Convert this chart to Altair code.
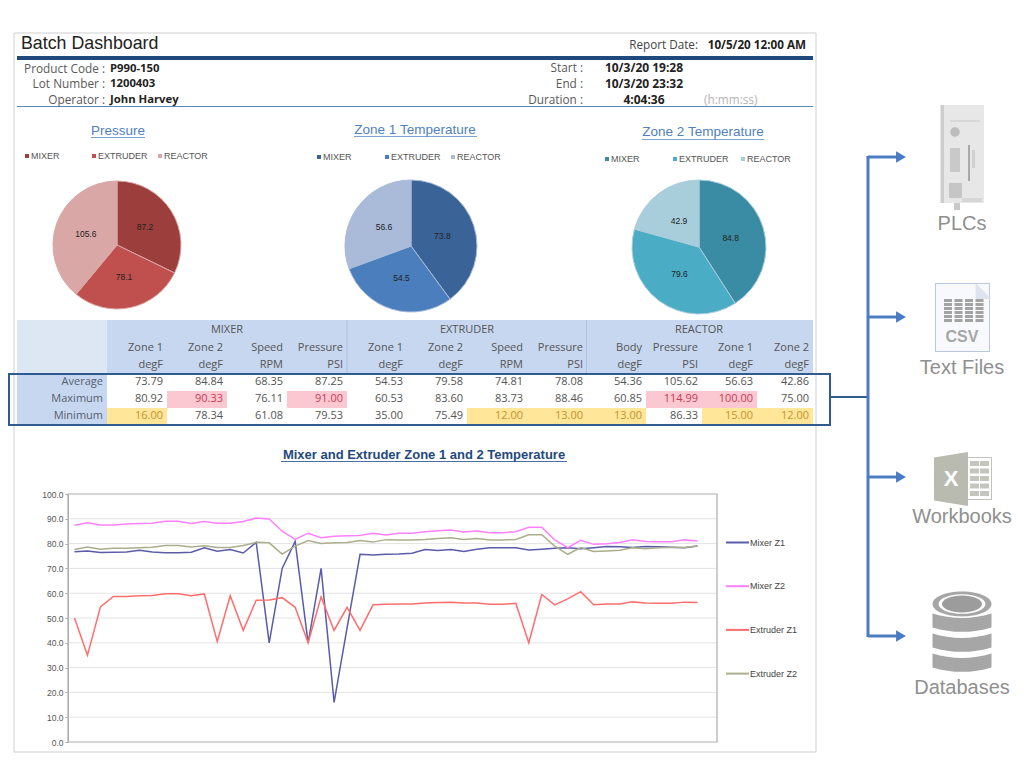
import altair as alt
import pandas as pd
from itertools import groupby

# ---------- data ----------
MIXER_Z1 = [76.7,77,76.4,76.5,76.6,77.3,76.6,76.3,76.3,76.5,78.3,76.9,77.6,76.2,80.5,40,70,80.9,40,70,16,46,75.7,75.4,75.7,75.8,76.1,77.6,77.2,77.6,76.8,77.7,78.3,78.3,78.3,77.4,77.7,78.1,78.3,77.9,78.3,78.8,78.7,78.4,78.8,78.7,78.5,78.3,79]
MIXER_Z2 = [87.4,88.4,87.5,87.5,87.9,88.1,88.2,89,89,88.1,88.9,88.2,88.2,88.9,90.3,89.9,85,81.7,84.2,82.4,83,83.2,83.3,84.2,83.5,84.2,84.2,84.8,85.2,85.5,84.7,85.1,84.4,84.4,84.8,86.6,86.6,81.5,78.4,81.3,79.7,79.9,80.4,81.5,80.8,80.7,80.7,81.5,81]
EXTRUDER_Z1 = [50,35,54.5,58.7,58.7,59,59.1,59.8,59.8,59,59.7,40.5,59,45,57.2,57.3,58.2,54.3,40,58.5,45,54.3,45,55.3,55.5,55.6,55.6,56,56.2,56.4,56,56,55.5,55.5,55.9,40,59.5,55.3,57.7,60.6,55.3,55.6,55.6,56.5,56,55.9,55.9,56.4,56.2]
EXTRUDER_Z2 = [77.6,78.6,77.7,78.1,78.1,78.3,78.5,79.2,79.2,78.6,79.1,78.4,78.4,79.2,80.5,80.3,75.8,79,81.2,80,80.3,80.4,81.2,80.6,81.6,81.5,81.5,81.7,82.1,82.4,81.7,82.1,81.5,81.5,81.7,83.6,83.6,79,75.7,78.4,76.8,77,77.3,78.3,77.9,78.3,78.4,78.4,79]
SERIES_NAMES = ["Mixer Z1", "Mixer Z2", "Extruder Z1", "Extruder Z2"]
SERIES_COLORS = ["#5A5CA8", "#FF80FF", "#FF6E6E", "#ABAE8C"]
Y_TICKS = [0, 10, 20, 30, 40, 50, 60, 70, 80, 90, 100]

PIE_GROUPS = ["MIXER", "EXTRUDER", "REACTOR"]
PIE_TITLES = ["Pressure", "Zone 1 Temperature", "Zone 2 Temperature"]
PIE_VALUES = [[87.2, 78.1, 105.6], [73.8, 54.5, 56.6], [84.8, 79.6, 42.9]]
PIE_COLORS = [["#9C3E3C", "#C0504D", "#D9A8A6"],
              ["#3A6398", "#4A7EBC", "#A9BBD9"],
              ["#3A8CA4", "#4BACC6", "#A9CEDB"]]

HEAD_TOP = ["Zone 1","Zone 2","Speed","Pressure","Zone 1","Zone 2","Speed","Pressure","Body","Pressure","Zone 1","Zone 2"]
HEAD_UNIT = ["degF","degF","RPM","PSI","degF","degF","RPM","PSI","degF","PSI","degF","degF"]
ROW_NAMES = ["Average", "Maximum", "Minimum"]
ROW_AVG = ["73.79","84.84","68.35","87.25","54.53","79.58","74.81","78.08","54.36","105.62","56.63","42.86"]
ROW_MAX = ["80.92","90.33","76.11","91.00","60.53","83.60","83.73","88.46","60.85","114.99","100.00","75.00"]
ROW_MIN = ["16.00","78.34","61.08","79.53","35.00","75.49","12.00","13.00","13.00","86.33","15.00","12.00"]
MAX_ALARM = [1, 3, 9, 10]
MIN_ALARM = [0, 6, 7, 8, 10, 11]

# ---------- layout (image pixels) ----------
M = 8
PLOT_X = [68, 717]
PLOT_Y = [742, 494]
COL_EDGES = [107,167,227,287,347,407,467,525,583,646,702,757,813]
COL_RIGHT = [163,223,283,343,403,463,523,583,642,698,753,809]
ROW_Y = [382, 399, 416]
ROW_EDGES = [374, 391, 408, 424]
PIE_CENTERS = [(117,245,64), (411,246,66), (699,247,67)]
PIE_LEG_Y = [156, 157, 159]
PIE_LEG_X = [[27,94,160], [319,387,453], [607,675,743]]
PIE_TITLE_POS = [(118,131,91,145,137), (415,130,354,477,136), (703,132,642,764,139)]
NAVY = "#1F497D"
LINK = "#4A7CC2"
BOX = "#2F5B8E"
ICON = "#8F8F8F"

texts, rects, frames = [], [], []

def T(x, y, s, size=11, color="#555555", weight="normal", align="left", font="Open Sans"):
    texts.append(dict(x=x-M, y=y-M, s=s, size=size, color=color, weight=weight, align=align, font=font))

def R(x1, y1, x2, y2, fill):
    rects.append(dict(x=x1-M, x2=x2-M, y=y1-M, y2=y2-M, fill=fill))

def F(x1, y1, x2, y2, stroke, width):
    frames.append(dict(x=x1-M, x2=x2-M, y=y1-M, y2=y2-M, stroke=stroke, w=width))

# dashboard frame + header
F(14, 33, 816, 752, "#CFCFCF", 1)
T(21, 44, "Batch Dashboard", 17.8, "#222222", font="Liberation Sans")
T(698, 45, "Report Date:", 11.7, "#444444", align="right", font="Open Sans")
T(806, 45, "10/5/20 12:00 AM", 11.7, "#222222", "bold", "right")
R(17, 56, 813, 60, NAVY)
R(17, 106, 813, 107, "#5E88B8")
for i, (a, b) in enumerate([("Product Code :", "P990-150"), ("Lot Number  :", "1200403"), ("Operator  :", "John Harvey")]):
    y = [69, 84, 100][i]
    T(105, y, a, 11.8, "#5A5A5A", align="right")
    T(110, y, b, 11.3, "#222222", "bold")
for i, (a, b) in enumerate([("Start :", "10/3/20 19:28"), ("End :", "10/3/20 23:32"), ("Duration :", "4:04:36")]):
    y = [68, 84, 100][i]
    T(583, y, a, 11.8, "#5A5A5A", align="right")
    T(644, y, b, 12, "#222222", "bold", "center")
T(704, 100, "(h:mm:ss)", 11.8, "#B5B5B5")

# pie titles + legends
for k, (cx, cy, x1, x2, uy) in enumerate(PIE_TITLE_POS):
    T(cx, cy, PIE_TITLES[k], 13.5, "#4F81BD", align="center", font="Liberation Sans")
    R(x1, uy, x2, uy + 1, "#7FA3CE")
    for j, g in enumerate(PIE_GROUPS):
        lx = PIE_LEG_X[k][j]
        R(lx - 2, PIE_LEG_Y[k] - 2, lx + 2, PIE_LEG_Y[k] + 2, PIE_COLORS[k][j])
        T(lx + 4, PIE_LEG_Y[k], g, 9, "#555555", font="Liberation Sans")

# table
R(17, 320, 107, 374, "#DDE6F3")
R(107, 320, 813, 374, "#C6D7EF")
R(17, 374, 107, 424, "#C6D7EF")
R(346.5, 320, 347.5, 374, "#AFC3DE")
R(586, 320, 587, 374, "#AFC3DE")
for x, g in zip([227, 467, 699], PIE_GROUPS):
    T(x, 330, g, 11, "#555555", align="center")
for i in range(12):
    T(COL_RIGHT[i], 348, HEAD_TOP[i], 11, "#555555", align="right")
    T(COL_RIGHT[i], 365, HEAD_UNIT[i], 11, "#555555", align="right")
for r, (name, row) in enumerate(zip(ROW_NAMES, [ROW_AVG, ROW_MAX, ROW_MIN])):
    T(103, ROW_Y[r], name, 11, "#56606E", "normal", "right")
    for i, v in enumerate(row):
        col = "#555555"
        if r == 1 and i in MAX_ALARM:
            R(COL_EDGES[i], ROW_EDGES[r], COL_EDGES[i+1], ROW_EDGES[r+1], "#FBC8D2")
            col = "#C83A55"
        if r == 2 and i in MIN_ALARM:
            R(COL_EDGES[i], ROW_EDGES[r], COL_EDGES[i+1], ROW_EDGES[r+1], "#FFE699")
            col = "#C4922F"
        T(COL_RIGHT[i], ROW_Y[r], v, 11, col, align="right")
F(9, 374, 830, 425, BOX, 2)

# line chart title + frame
T(424, 455, "Mixer and Extruder Zone 1 and 2 Temperature", 13, NAVY, "bold", "center", "Liberation Sans")
R(281, 461, 567, 462, "#4A6FA5")
F(PLOT_X[0], PLOT_Y[1], PLOT_X[1], PLOT_Y[0], "#ADADAD", 1.2)

# connectors
R(830, 396, 868, 398, BOX)
R(866.5, 156, 869.5, 637, LINK)
ARROW_Y = [157, 317, 477, 636]
for y in ARROW_Y:
    R(868, y - 1.5, 897, y + 1.5, LINK)

# right-hand labels
for y, s in zip([224, 368, 517, 688], ["PLCs", "Text Files", "Workbooks", "Databases"]):
    T(962, y, s, 20, ICON, align="center", font="Liberation Sans")

# PLC icon
R(940, 105, 984, 203, "#E7E7E7")
R(941, 105, 944, 203, "#CDCDCD")
R(950, 148, 960, 172, "#C9C9C9")
R(968, 145, 970, 181, "#A9A9A9")
R(972, 150, 975, 168, "#D0D0D0")
R(949, 183, 962, 198, "#C6C6C6")
R(954, 203, 960, 210, "#C9C9C9")
R(950, 120, 980, 122, "#D8D8D8")
R(962, 198, 982, 202, "#D6D6D6")

# CSV icon
R(935, 283, 990, 352, "#B9C8DE")
R(936, 284, 989, 351, "#F7F9FC")
for c in range(4):
    for n in range(6):
        R(944 + c * 10.5, 299 + n * 4, 952 + c * 10.5, 302 + n * 4, "#A3A3A3")
T(962, 337, "CSV", 16, "#A6A6A6", "bold", "center", "Liberation Sans")

# Excel sheet
R(967, 457, 992, 500, "#C2C3BA")
R(968, 458, 991, 499, "#FFFFFF")
for n in range(5):
    for c in range(2):
        R(970 + c * 10, 461 + n * 7.5, 979 + c * 10, 466 + n * 7.5, "#C4C5BD")

def T_layers():
    out = []
    key = lambda d: (d["size"], d["color"], d["weight"], d["align"], d["font"])
    for k, grp in groupby(sorted(texts, key=key), key=key):
        out.append(alt.Chart(pd.DataFrame(list(grp))).mark_text(
            fontSize=k[0], color=k[1], fontWeight=k[2], align=k[3], font=k[4], baseline="middle"
        ).encode(x=alt.X("x:Q", scale=None, axis=None), y=alt.Y("y:Q", scale=None, axis=None), text="s:N"))
    return out

def symbol(x, y, size, path, color):
    d = pd.DataFrame({"x": [x - M], "y": [y - M]})
    return alt.Chart(d).mark_point(shape=path, size=size, filled=True, opacity=1, color=color, strokeWidth=0).encode(
        x=alt.X("x:Q", scale=None, axis=None), y=alt.Y("y:Q", scale=None, axis=None))

rect_layer = alt.Chart(pd.DataFrame(rects)).mark_rect().encode(
    x=alt.X("x:Q", scale=None, axis=None), x2="x2:Q",
    y=alt.Y("y:Q", scale=None, axis=None), y2="y2:Q",
    color=alt.Color("fill:N", scale=None))

frame_layer = alt.Chart(pd.DataFrame(frames)).mark_rect(fillOpacity=0).encode(
    x=alt.X("x:Q", scale=None, axis=None), x2="x2:Q",
    y=alt.Y("y:Q", scale=None, axis=None), y2="y2:Q",
    stroke=alt.Stroke("stroke:N", scale=None),
    strokeWidth=alt.StrokeWidth("w:Q", scale=None))

# pies
pie_layers = []
for k in range(3):
    cx, cy, rad = PIE_CENTERS[k]
    d = pd.DataFrame({"g": PIE_GROUPS, "v": PIE_VALUES[k], "c": PIE_COLORS[k], "o": [0, 1, 2],
                      "lab": [f"{v:.1f}" for v in PIE_VALUES[k]]})
    th = alt.Theta("v:Q", stack=True, scale=alt.Scale(domain=[0, sum(PIE_VALUES[k])]))
    arc = alt.Chart(d).mark_arc(outerRadius=rad, stroke=PIE_COLORS[k][2], strokeWidth=1).encode(
        theta=th, order=alt.Order("o:Q"), color=alt.Color("c:N", scale=None),
        x=alt.value(cx - M), y=alt.value(cy - M))
    lab = alt.Chart(d).mark_text(radius=33, fontSize=8.5, color="#222222", font="Liberation Sans").encode(
        theta=th, order=alt.Order("o:Q"), text="lab:N",
        x=alt.value(cx - M), y=alt.value(cy - M))
    pie_layers.append(alt.layer(arc, lab))

# line chart
n = len(MIXER_Z1)
long = pd.DataFrame({
    "slot": [i + 0.5 for i in range(n)] * 4,
    "val": MIXER_Z1 + MIXER_Z2 + EXTRUDER_Z1 + EXTRUDER_Z2,
    "series": sum([[s] * n for s in SERIES_NAMES], []),
    "o": list(range(n)) * 4,
})
xs = alt.Scale(domain=[0, 50], range=[PLOT_X[0] - M, PLOT_X[1] - M])
ys = alt.Scale(domain=[0, 100], range=[PLOT_Y[0] - M, PLOT_Y[1] - M])
grid = alt.Chart(pd.DataFrame({"t": Y_TICKS[1:-1], "a": 0, "b": 50})).mark_rule(color="#E4E4E4", strokeWidth=1).encode(
    x=alt.X("a:Q", scale=xs, axis=None), x2="b:Q",
    y=alt.Y("t:Q", scale=ys, axis=alt.Axis(
        values=Y_TICKS, format=".1f", title=None, grid=False, offset=-(PLOT_X[0] - M),
        labelFontSize=8.5, labelColor="#555555", labelFont="Liberation Sans",
        domainColor="#ADADAD", tickColor="#ADADAD", tickSize=3, labelPadding=2)))
lines = alt.Chart(long).mark_line(strokeWidth=1.5).encode(
    x=alt.X("slot:Q", scale=xs, axis=None),
    y=alt.Y("val:Q", scale=ys),
    order="o:Q",
    color=alt.Color("series:N", scale=alt.Scale(domain=SERIES_NAMES, range=SERIES_COLORS),
                    legend=alt.Legend(orient="none", legendX=725 - M, legendY=530 - M, title=None,
                                      symbolType="stroke", symbolSize=529, symbolStrokeWidth=2,
                                      labelFontSize=9, labelColor="#444444", labelFont="Liberation Sans",
                                      labelOffset=0, rowPadding=25.7, padding=0)))

# icon shapes
excel = symbol(951, 479, 2916, "M-0.63,-0.8 L0.63,-1 L0.63,1 L-0.63,0.8 Z", "#B9BAB0")
excel_x = alt.Chart(pd.DataFrame({"x": [951 - M], "y": [479 - M], "s": ["X"]})).mark_text(
    fontSize=22, fontWeight="bold", color="#FFFFFF", font="Liberation Sans", baseline="middle").encode(
    x=alt.X("x:Q", scale=None, axis=None), y=alt.Y("y:Q", scale=None, axis=None), text="s:N")
band = "M-1,-0.32 Q0,-0.02 1,-0.32 L1,0.15 Q0,0.45 -1,0.15 Z"
ell = "M-1,0 A1,0.42 0 1,1 1,0 A1,0.42 0 1,1 -1,0 Z"
db = [symbol(962, 623, 3481, band, "#A6A6A6"), symbol(962, 643, 3481, band, "#A6A6A6"),
      symbol(962, 663, 3481, band, "#A6A6A6"),
      symbol(962, 604, 3481, ell, "#A6A6A6"), symbol(962, 604, 2200, ell, "#FFFFFF"),
      symbol(962, 604, 1600, ell, "#9C9C9C"),
      symbol(955, 132, 90, "M-1,0 A1,1 0 1,1 1,0 A1,1 0 1,1 -1,0 Z", "#BDBDBD"),
      symbol(983.5, 291, 250, "M-1,-1 L1,1 L-1,1 Z", "#DDE4EE")]
arrows = alt.Chart(pd.DataFrame({"x": [901 - M] * 4, "y": [y - M for y in ARROW_Y]})).mark_point(
    shape="triangle-right", size=130, filled=True, opacity=1, color=LINK, strokeWidth=0).encode(
    x=alt.X("x:Q", scale=None, axis=None), y=alt.Y("y:Q", scale=None, axis=None))

chart = alt.layer(
    rect_layer, *pie_layers, grid, lines, frame_layer, excel, excel_x, *db, arrows, *T_layers()
).resolve_scale(theta="independent").properties(
    width=1008, height=768, padding=0, background="#FFFFFF",
    autosize=alt.AutoSizeParams(type="none")
).configure_view(stroke=None)

chart.save("out.html", embed_options={"renderer": "svg", "actions": False})
